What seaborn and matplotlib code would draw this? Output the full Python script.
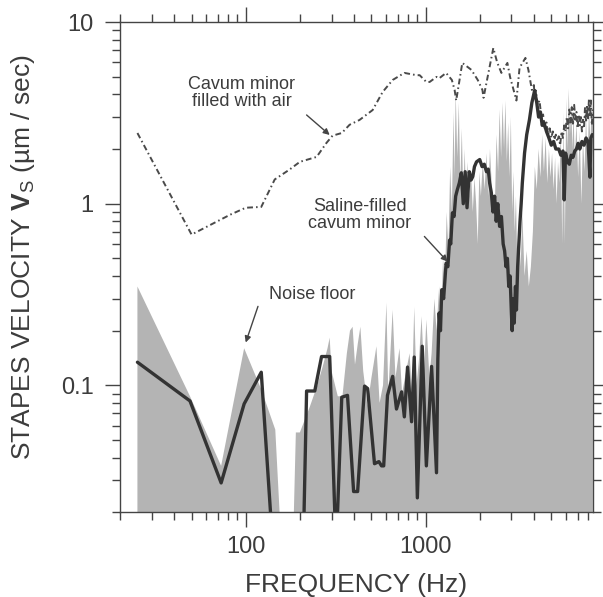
import numpy as np
import matplotlib
matplotlib.use("Agg")
import matplotlib.pyplot as plt
import seaborn as sns
from matplotlib.ticker import FixedLocator, LogLocator, NullFormatter

# noise floor (gray fill)
noise_freq = [25, 49, 73, 98, 122, 146, 160, 182, 190, 200, 227, 250, 268, 285, 293, 300, 325, 345,
              365, 380, 393, 405, 420, 434, 450, 475, 500, 533, 555, 580, 606, 620, 656, 680, 716,
              740, 780, 815, 840, 865, 890, 920, 950, 980, 1010, 1050, 1080, 1120, 1150, 1190,
              1220, 1250, 1280, 1310, 1340, 1370, 1400, 1430, 1450, 1470, 1500, 1530, 1560, 1590,
              1620, 1650, 1680, 1710, 1750, 1790, 1830, 1870, 1910, 1950, 1990, 2030, 2080, 2130,
              2180, 2230, 2280, 2330, 2380, 2430, 2480, 2530, 2580, 2630, 2680, 2730, 2780, 2830,
              2880, 2930, 2980, 3030, 3080, 3130, 3180, 3230, 3300, 3380, 3450, 3550, 3650, 3750,
              3850, 3950, 4050, 4150, 4250, 4350, 4450, 4550, 4650, 4750, 4850, 4950, 5050, 5150,
              5250, 5350, 5450, 5550, 5650, 5750, 5850, 5950, 6050, 6150, 6250, 6350, 6450, 6550,
              6650, 6750, 6900, 7050, 7200, 7350, 7500, 7650, 7800, 7950, 8100, 8250, 8400, 8500]
noise_vel = [0.35, 0.087, 0.036, 0.16, 0.095, 0.057, 0.01, 0.01, 0.055, 0.055, 0.076, 0.10, 0.127,
             0.16, 0.183, 0.12, 0.087, 0.087, 0.15, 0.20, 0.21, 0.13, 0.17, 0.21, 0.12, 0.077,
             0.11, 0.164, 0.08, 0.10, 0.285, 0.09, 0.26, 0.11, 0.16, 0.09, 0.12, 0.15, 0.09, 0.27,
             0.10, 0.14, 0.24, 0.12, 0.23, 0.11, 0.15, 0.30, 0.20, 0.35,
             0.22, 0.50, 0.35, 0.90, 0.55, 1.6, 0.9, 3.2, 1.4, 4.2, 1.8, 3.6, 1.3, 2.6,
             1.1, 2.0, 1.0, 1.7, 1.1, 1.5, 0.9, 1.4, 1.0, 0.6, 1.5, 1.1, 1.7, 1.2,
             1.9, 1.1, 2.0, 1.3, 0.9, 1.0, 2.4, 1.5, 3.3, 1.8, 3.6, 2.0, 3.7, 1.7,
             2.8, 1.4, 3.0, 0.9, 1.5, 0.7, 1.1, 0.5, 0.8, 0.45, 0.9, 0.4, 0.55, 0.35,
             0.45, 0.7, 1.6, 1.2, 2.0, 1.4, 2.4, 1.5, 2.3, 1.3, 2.0, 1.4, 1.9, 1.2,
             1.8, 1.0, 1.7, 1.3, 2.6, 0.6, 3.2, 0.6, 3.8, 2.0, 4.3, 2.4, 3.6, 2.0,
             3.2, 1.7, 2.8, 1.4, 2.5, 1.0, 2.3, 1.5, 3.0, 1.7, 3.3, 2.2, 3.6, 2.8]

# saline-filled cavum minor (thick line)
saline_freq = [25, 49, 73, 98, 122, 146, 207, 218, 242, 264, 293, 318, 342, 368, 398, 419, 458,
               476, 520, 550, 569, 585, 614, 656, 689, 736, 762, 794, 836, 865, 900, 958, 1010,
               1080, 1150, 1170, 1190, 1210, 1230, 1260, 1300, 1330, 1360, 1380, 1410, 1440, 1470,
               1500, 1540, 1580, 1620, 1660, 1700, 1750, 1790, 1830, 1870, 1920, 2000, 2060, 2120,
               2180, 2230, 2270, 2320, 2370, 2420, 2470, 2520, 2580, 2640, 2700, 2750, 2800, 2850,
               2900, 2950, 3000, 3030, 3070, 3110, 3160, 3200, 3250, 3300, 3350, 3400, 3450, 3550,
               3650, 3780, 3900, 4040, 4150, 4250, 4350, 4450, 4550, 4700, 4850, 5000, 5150, 5300,
               5500, 5650, 5800, 5900, 6000, 6150, 6300, 6450, 6600, 6750, 6900, 7050, 7200, 7400,
               7600, 7800, 8000, 8200, 8300, 8450]
saline_vel = [0.134, 0.082, 0.029, 0.079, 0.118, 0.008, 0.008, 0.093, 0.093, 0.144, 0.144, 0.012,
              0.086, 0.088, 0.026, 0.026, 0.099, 0.096, 0.037, 0.038, 0.036, 0.036, 0.088, 0.112,
              0.074, 0.092, 0.067, 0.126, 0.063, 0.143, 0.024, 0.164, 0.036, 0.127, 0.033, 0.139,
              0.25, 0.20, 0.336, 0.30, 0.47, 0.45, 0.63, 0.60, 0.89, 0.85, 1.10, 1.19, 1.30, 1.48,
              1.00, 1.50, 0.95, 1.50, 1.35, 1.41, 1.60, 1.70, 1.75, 1.60, 1.65, 1.50, 1.55, 1.30,
              1.15, 0.90, 1.10, 0.80, 1.00, 0.75, 0.85, 0.60, 0.55, 0.45, 0.50, 0.35, 0.40, 0.25,
              0.20, 0.30, 0.22, 0.35, 0.26, 0.45, 0.60, 0.80, 1.00, 1.30, 1.90, 2.40, 2.90, 3.60,
              4.20, 3.60, 3.00, 3.20, 2.70, 2.80, 2.50, 2.30, 2.10, 2.20, 2.00, 2.00, 1.85, 1.95,
              1.05, 1.90, 1.70, 1.65, 1.85, 1.80, 1.95, 2.00, 2.15, 2.00, 2.20, 2.10, 2.30, 2.20,
              1.40, 2.30, 2.40]

# cavum minor filled with air (dash-dot line)
air_freq = [25, 50, 82, 100, 122, 145, 175, 200, 248, 281, 304, 342, 378, 429, 508, 577, 656, 762,
            890, 927, 1010, 1053, 1150, 1190, 1300, 1400, 1450, 1480, 1600, 1800, 1950, 2070, 2100,
            2380, 2500, 2640, 2850, 2950, 3200, 3330, 3590, 3730, 3900, 4000, 4040, 4100, 4200,
            4300, 4400, 4500, 4600, 4700, 4800, 4900, 5000, 5100, 5200, 5300, 5400, 5500, 5600,
            5700, 5800, 5900, 6000, 6100, 6200, 6300, 6400, 6500, 6600, 6700, 6800, 6900, 7000,
            7100, 7200, 7300, 7400, 7500, 7600, 7700, 7800, 7900, 8000, 8100, 8200, 8300, 8400,
            8500]
air_vel = [2.45, 0.676, 0.87, 0.95, 0.96, 1.36, 1.54, 1.70, 1.81, 2.16, 2.37, 2.45, 2.72, 2.89,
           3.28, 4.12, 4.80, 5.25, 5.10, 5.10, 4.68, 4.68, 4.99, 4.90, 5.25, 4.80, 4.23, 3.70,
           5.96, 5.45, 4.80, 4.23, 3.83, 7.20, 6.00, 5.25, 5.96, 4.98, 3.70, 5.60, 6.35, 5.45,
           4.23, 4.50, 3.90, 4.20, 3.50, 3.70, 3.00, 3.10, 2.60, 2.80, 2.40, 2.60, 2.30, 2.50,
           2.25, 2.40, 2.20, 2.35, 2.10, 2.50, 2.30, 2.70, 2.50, 3.00, 2.60, 3.30, 2.80, 3.40,
           2.70, 3.50, 2.90, 3.20, 2.60, 3.10, 2.70, 3.00, 2.50, 2.90, 2.60, 3.40, 2.80, 3.50,
           2.90, 3.80, 3.00, 3.70, 2.70, 3.30]

sns.set_style("ticks")
plt.rcParams["font.family"] = ["Liberation Sans", "DejaVu Sans"]
plt.rcParams["mathtext.fontset"] = "custom"
plt.rcParams["mathtext.rm"] = "Liberation Sans"
plt.rcParams["mathtext.bf"] = "Liberation Sans:bold"

txt = "#3c3c3c"
fig = plt.figure(figsize=(6.03, 5.97), dpi=100)
ax = fig.add_axes([0.199, 0.142, 0.784, 0.821])

ax.fill_between(noise_freq, noise_vel, 1e-4, color="#b4b4b4", lw=0)
sns.lineplot(x=air_freq, y=air_vel, ax=ax, color="#4a4a4a", lw=1.4, sort=False, estimator=None,
             linestyle=(0, (3, 1.6, 0.8, 1.6)))
sns.lineplot(x=saline_freq, y=saline_vel, ax=ax, color="#333333", lw=2.4, sort=False, estimator=None)

ax.set_xscale("log")
ax.set_yscale("log")
ax.set_xlim(20, 8500)
ax.set_ylim(0.02, 10)

ax.xaxis.set_major_locator(FixedLocator([100, 1000]))
ax.set_xticklabels(["100", "1000"])
ax.yaxis.set_major_locator(FixedLocator([0.1, 1, 10]))
ax.set_yticklabels(["0.1", "1", "10"])
ax.xaxis.set_minor_locator(LogLocator(base=10, subs=np.arange(2, 10)))
ax.yaxis.set_minor_locator(LogLocator(base=10, subs=np.arange(2, 10)))
ax.xaxis.set_minor_formatter(NullFormatter())
ax.yaxis.set_minor_formatter(NullFormatter())

ax.tick_params(which="both", direction="out", top=True, right=True, color="#444444",
               labelcolor=txt, labelsize=17)
ax.tick_params(which="major", length=11, width=1)
ax.tick_params(axis="x", which="major", pad=6)
ax.tick_params(axis="y", which="major", pad=8)
ax.tick_params(which="minor", length=6, width=1)
for s in ax.spines.values():
    s.set_visible(True)
    s.set_color("#444444")
    s.set_linewidth(1.0)

ax.set_xlabel("FREQUENCY (Hz)", fontsize=19, color=txt)
ax.set_ylabel(r"STAPES VELOCITY $\mathbf{V}_{\mathrm{S}}$ (µm / sec)", fontsize=19, color=txt)
ax.xaxis.set_label_coords(0.5, -0.124)
ax.yaxis.set_label_coords(-0.175, 0.52)

arrow = dict(arrowstyle="-|>", color="#444444", lw=1.0, mutation_scale=9, shrinkA=0, shrinkB=0)
ax.text(95, 4.07, "Cavum minor\nfilled with air", ha="center", va="center", fontsize=13,
        color=txt, linespacing=1.0)
ax.annotate("", xy=(293, 2.39), xytext=(218, 3.08), arrowprops=arrow)
ax.text(430, 0.87, "Saline-filled\ncavum minor", ha="center", va="center", fontsize=13,
        color=txt, linespacing=1.0)
ax.annotate("", xy=(1325, 0.48), xytext=(985, 0.66), arrowprops=arrow)
ax.text(233, 0.316, "Noise floor", ha="center", va="center", fontsize=13, color=txt)
ax.annotate("", xy=(100, 0.172), xytext=(117, 0.272), arrowprops=arrow)

fig.savefig("out.png", dpi=100)
